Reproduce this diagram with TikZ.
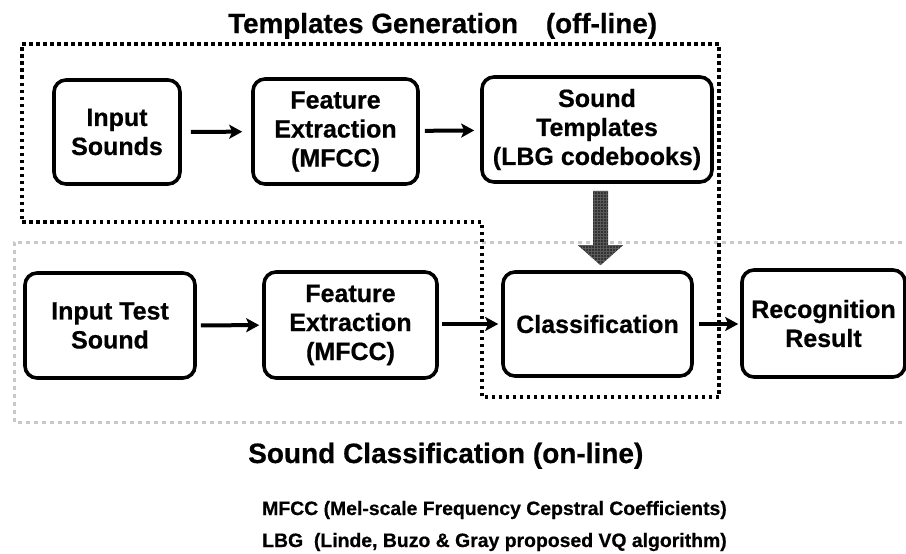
\documentclass[tikz,border=0pt]{standalone}
\usepackage{fontspec}
\setmainfont{Liberation Sans}[BoldFeatures={FakeBold=0.6}]
\usetikzlibrary{arrows.meta,calc,patterns}
\definecolor{zonegray}{RGB}{200,200,200}
\definecolor{bigarrow}{RGB}{50,50,50}
\definecolor{gridline}{RGB}{90,90,90}
\begin{document}
\begin{tikzpicture}[x=1pt,y=-1pt,
  blk/.style={draw, line width=3.6pt, rounded corners=12pt, align=center,
    font=\fontsize{25}{29}\selectfont\bfseries, inner sep=0pt},
  flow/.style={line width=4pt, -{Stealth[length=13pt,width=14pt,inset=3pt]}},
  offzone/.style={line width=3.5pt, dash pattern=on 3.5pt off 3.5pt},
  onzone/.style={zonegray, line width=3pt, dash pattern=on 4pt off 4pt},
  heading/.style={font=\fontsize{28}{32}\selectfont\bfseries, inner sep=0pt},
  note/.style={font=\fontsize{19.4}{22}\selectfont\bfseries, inner sep=0pt},
]
\useasboundingbox (0,0) rectangle (906,554);

% on-line region (open to the right)
\draw[onzone] (910,242) -- (14,242) -- (14,422) -- (910,422);

% off-line region
\draw[offzone] (22,44) -- (719,44) -- (719,397) -- (482,397) -- (482,222) -- (22,222) -- cycle;

% blocks of the off-line stage
\node[blk, minimum width=126pt, minimum height=104pt] (insnd) at (117,132) {Input\\Sounds};
\node[blk, minimum width=165pt, minimum height=105pt] (fe1) at (335.5,131.5) {Feature\\Extraction\\(MFCC)};
\node[blk, minimum width=230pt, minimum height=105pt] (tmpl) at (597,129.5) {Sound\\Templates\\(LBG codebooks)};

% blocks of the on-line stage
\node[blk, minimum width=170pt, minimum height=105pt] (its) at (110,325.5) {Input Test\\Sound};
\node[blk, minimum width=173pt, minimum height=106pt] (fe2) at (350.5,325) {Feature\\Extraction\\(MFCC)};
\node[blk, minimum width=189pt, minimum height=104pt] (cls) at (597.5,324) {Classification};
\node[blk, minimum width=163pt, minimum height=107pt] (rec) at (823.5,323.5) {Recognition\\Result};

% flow arrows
\draw[flow, shorten <=9pt, shorten >=9pt] (insnd) -- (fe1);
\draw[flow, shorten <=5pt, shorten >=6pt] (fe1) -- (tmpl);
\draw[flow, shorten <=4pt, shorten >=3pt] (its) -- (fe2);
\draw[flow, shorten <=3pt, shorten >=3pt] (fe2.east |- cls.west) -- (cls.west);
\draw[flow, shorten <=5pt, shorten >=2pt] (cls.east) -- (rec.west |- cls.east);

% templates feed the classifier
\coordinate (bt) at ($(tmpl.south)+(3.5,7)$);
\coordinate (bb) at ($(cls.north)+(3,-5)$);
\path[fill=bigarrow, postaction={pattern=grid, pattern color=gridline}]
  ($(bt)+(-7.5,0)$) -- ($(bt)+(7.5,0)$) -- ($(bb)+(7.5,-20)$) -- ($(bb)+(22.5,-20)$)
  -- (bb) -- ($(bb)+(-22.5,-20)$) -- ($(bb)+(-7.5,-20)$) -- cycle;

% headings
\node[heading, font=\fontsize{27.8}{32}\selectfont\bfseries, anchor=base west] (offtitle) at (228,33) {Templates Generation\quad(off-line)};
\node[heading, anchor=base west] (ontitle) at (248,463) {Sound Classification (on-line)};

% abbreviations
\node[note, anchor=base west] (n1) at (262,515) {MFCC (Mel-scale Frequency Cepstral Coefficients)};
\node[note, anchor=base west] (n2) at (262,547) {LBG\ \ (Linde, Buzo \& Gray proposed VQ algorithm)};
\end{tikzpicture}
\end{document}
